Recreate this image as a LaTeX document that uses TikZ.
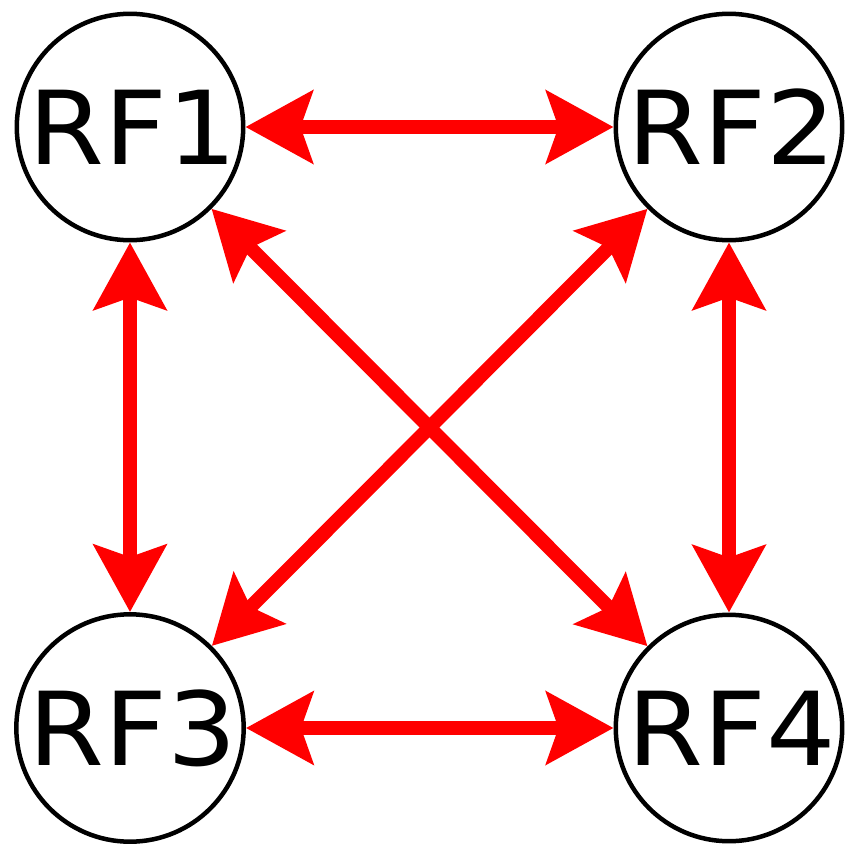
\documentclass[tikz,border=0pt]{standalone}
\usepackage{fontspec}
\setmainfont{DejaVu Sans}
\usetikzlibrary{arrows.meta}
\newcommand\rflabel[1]{\hspace*{6pt}\scalebox{1.07}[1]{#1}}
\begin{document}
\begin{tikzpicture}[x=1pt,y=-1pt,
  rf/.style={circle,draw=black,line width=4.5pt,minimum size=226pt,inner sep=0pt,
    font=\fontsize{102}{120}\selectfont},
  link/.style={draw=red,line width=14pt,
    arrows={Stealth[length=67pt,width=72pt,inset=12pt]-Stealth[length=67pt,width=72pt,inset=12pt]}}]
\useasboundingbox (0,0) rectangle (844,846);
\node[rf] (rf1) at (130,127) {\rflabel{RF1}};
\node[rf] (rf2) at (729,127) {\rflabel{RF2}};
\node[rf] (rf3) at (130,728) {\rflabel{RF3}};
\node[rf] (rf4) at (729,728) {\rflabel{RF4}};
\draw[link] (rf1) -- (rf2);
\draw[link] (rf3) -- (rf4);
\draw[link] (rf1) -- (rf3);
\draw[link] (rf2) -- (rf4);
\draw[link] (rf1) -- (rf4);
\draw[link] (rf2) -- (rf3);
\end{tikzpicture}
\end{document}
